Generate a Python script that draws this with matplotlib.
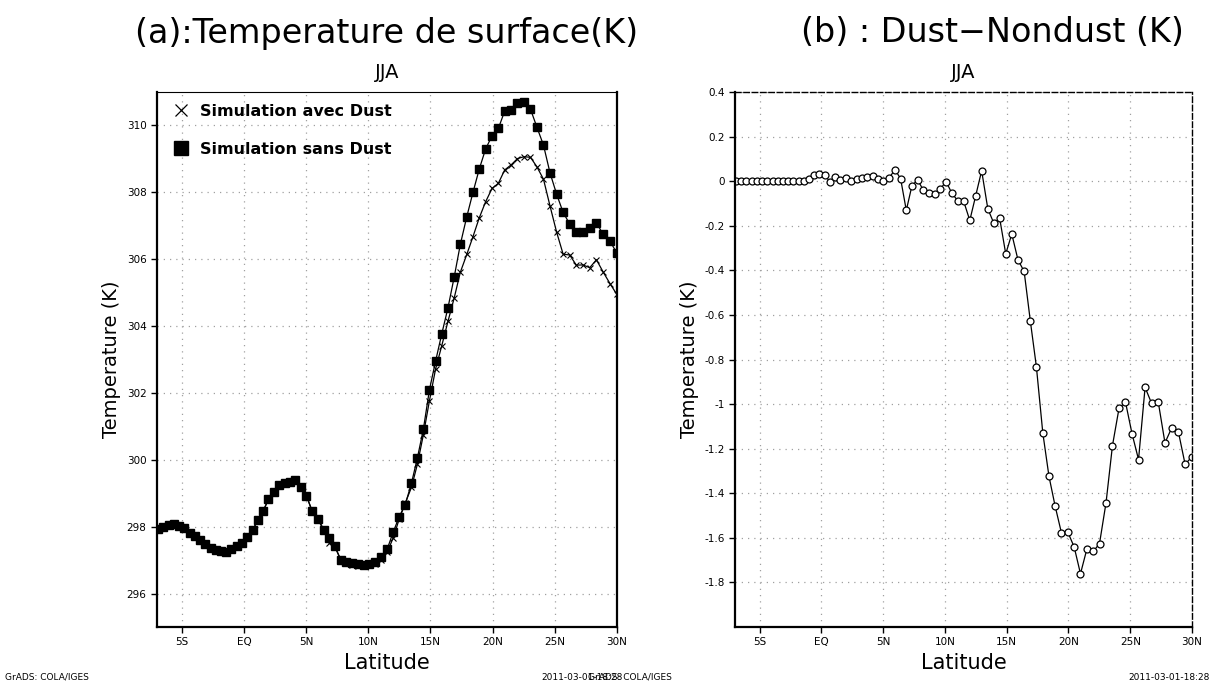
import matplotlib.pyplot as plt
from matplotlib.lines import Line2D

# latitude of each grid point (deg, negative = south)
lat = [-6.93, -6.50, -6.07, -5.65, -5.22, -4.80, -4.38, -3.95, -3.53, -3.11,
       -2.69, -2.27, -1.85, -1.43, -1.01, -0.58, -0.16, 0.27, 0.69, 1.11,
       1.54, 1.97, 2.40, 2.84, 3.27, 3.70, 4.14, 4.58, 5.02, 5.48,
       5.95, 6.41, 6.87, 7.32, 7.78, 8.24, 8.70, 9.16, 9.62, 10.09,
       10.57, 11.04, 11.52, 12.01, 12.49, 12.97, 13.47, 13.95, 14.43, 14.92,
       15.41, 15.91, 16.41, 16.91, 17.40, 17.92, 18.42, 18.92, 19.43, 19.95,
       20.46, 20.97, 21.48, 22.00, 22.51, 23.04, 23.56, 24.09, 24.61, 25.14,
       25.67, 26.20, 26.73, 27.27, 27.81, 28.35, 28.89, 29.44, 29.98]

# surface temperature without dust (K)
t_sans_dust = [297.93, 298.00, 298.05, 298.08, 298.02, 297.95, 297.82, 297.72, 297.60, 297.47,
               297.35, 297.30, 297.27, 297.25, 297.32, 297.42, 297.50, 297.70, 297.89, 298.19,
               298.46, 298.82, 299.05, 299.24, 299.32, 299.35, 299.39, 299.20, 298.93, 298.46,
               298.22, 297.89, 297.65, 297.41, 297.01, 296.95, 296.92, 296.88, 296.85, 296.87,
               296.94, 297.08, 297.33, 297.85, 298.30, 298.66, 299.30, 300.06, 300.92, 302.10,
               302.95, 303.77, 304.55, 305.47, 306.44, 307.27, 308.00, 308.69, 309.29, 309.69,
               309.91, 310.43, 310.47, 310.67, 310.69, 310.49, 309.95, 309.41, 308.59, 307.95,
               307.40, 307.05, 306.82, 306.82, 306.92, 307.09, 306.74, 306.54, 306.19]

# dust - nondust (K)
t_diff = [0.0, 0.0, 0.0, 0.0, 0.0, 0.0, 0.0, 0.0, 0.0, 0.0,
          0.0, 0.0, 0.0, 0.002, 0.011, 0.029, 0.032, 0.029, -0.004, 0.017,
          0.007, 0.014, 0.001, 0.010, 0.016, 0.020, 0.022, 0.008, -0.001, 0.014,
          0.052, 0.011, -0.131, -0.022, 0.007, -0.040, -0.055, -0.059, -0.035, -0.002,
          -0.055, -0.088, -0.091, -0.176, -0.065, 0.047, -0.124, -0.188, -0.167, -0.326,
          -0.237, -0.353, -0.405, -0.627, -0.832, -1.129, -1.324, -1.458, -1.578, -1.575,
          -1.641, -1.761, -1.652, -1.661, -1.626, -1.442, -1.186, -1.019, -0.990, -1.132,
          -1.249, -0.925, -0.997, -0.992, -1.174, -1.107, -1.123, -1.270, -1.237]

t_avec_dust = [s + d for s, d in zip(t_sans_dust, t_diff)]

lat_ticks = [-5, 0, 5, 10, 15, 20, 25, 30]
lat_labels = ['5S', 'EQ', '5N', '10N', '15N', '20N', '25N', '30N']

plt.rcParams['axes.unicode_minus'] = False
plt.rcParams['font.family'] = 'DejaVu Sans'

fig = plt.figure(figsize=(12.14, 6.84), dpi=100)
ax1 = fig.add_axes([0.1293, 0.0833, 0.3789, 0.7822])
ax2 = fig.add_axes([0.6054, 0.0833, 0.3765, 0.7822])

grid_kw = dict(color='#a0a0a0', linestyle=(0, (1, 4)), linewidth=0.9)

# (a) temperature
ax1.plot(lat, t_sans_dust, color='k', lw=0.9, marker='s', ms=5.2)
ax1.plot(lat, t_avec_dust, color='k', lw=0.9, marker='x', ms=4, mew=0.8)
ax1.set_xlim(-7, 30)
ax1.set_ylim(295, 311)
ax1.set_yticks([296, 298, 300, 302, 304, 306, 308, 310])
ax1.set_ylabel('Temperature (K)', fontsize=14)

handles = [Line2D([], [], color='k', marker='x', ls='none', ms=9, mew=0.9),
           Line2D([], [], color='k', marker='s', ls='none', ms=9.5)]
ax1.legend(handles, ['Simulation avec Dust', 'Simulation sans Dust'],
           loc='upper left', bbox_to_anchor=(0.0, 1.005), frameon=False,
           prop={'weight': 'bold', 'size': 11.5}, labelspacing=1.45,
           handlelength=1.2, handletextpad=0.6)

# (b) difference
ax2.plot(lat, t_diff, color='k', lw=0.9, marker='o', ms=5, mfc='white', mec='k', mew=0.9)
ax2.set_xlim(-7, 30)
ax2.set_ylim(-2.0, 0.4)
ax2.set_yticks([-1.8, -1.6, -1.4, -1.2, -1.0, -0.8, -0.6, -0.4, -0.2, 0.0, 0.2, 0.4])
ax2.set_yticklabels(['-1.8', '-1.6', '-1.4', '-1.2', '-1', '-0.8', '-0.6', '-0.4', '-0.2', '0', '0.2', '0.4'])
ax2.set_ylabel('Temperature (K)', fontsize=14)

for ax in (ax1, ax2):
    ax.set_xticks(lat_ticks)
    ax.set_xticklabels(lat_labels)
    ax.grid(True, **grid_kw)
    ax.tick_params(labelsize=7.5, direction='out', length=4, width=1)
    ax.set_xlabel('Latitude', fontsize=15)
    ax.set_title('JJA', fontsize=14, pad=10)
    ax.spines['left'].set_linewidth(1.6)
    ax.spines['bottom'].set_linewidth(1.6)

ax1.spines['top'].set_linewidth(0.8)
ax1.spines['right'].set_linewidth(1.6)
ax2.spines['top'].set_linestyle((0, (4, 2)))
ax2.spines['right'].set_linestyle((0, (4, 2)))
ax2.spines['top'].set_linewidth(1.0)
ax2.spines['right'].set_linewidth(1.0)

# panel titles
fig.text(387 / 1214, 1 - 33 / 684, '(a):Temperature de surface(K)', fontsize=24,
         ha='center', va='center')
fig.text(992 / 1214, 1 - 33 / 684, '(b) : Dust\u2212Nondust (K)', fontsize=24,
         ha='center', va='center')

# GrADS footers (the middle two overlap in the original)
fig.text(5 / 1214, 1 - 677 / 684, 'GrADS: COLA/IGES', fontsize=6.5, va='center')
fig.text(623 / 1214, 1 - 677 / 684, '2011-03-01-18:28', fontsize=6.5, ha='right', va='center')
fig.text(588 / 1214, 1 - 677 / 684, 'GrADS: COLA/IGES', fontsize=6.5, va='center')
fig.text(1210 / 1214, 1 - 677 / 684, '2011-03-01-18:28', fontsize=6.5, ha='right', va='center')

plt.savefig('out.png', dpi=100)
